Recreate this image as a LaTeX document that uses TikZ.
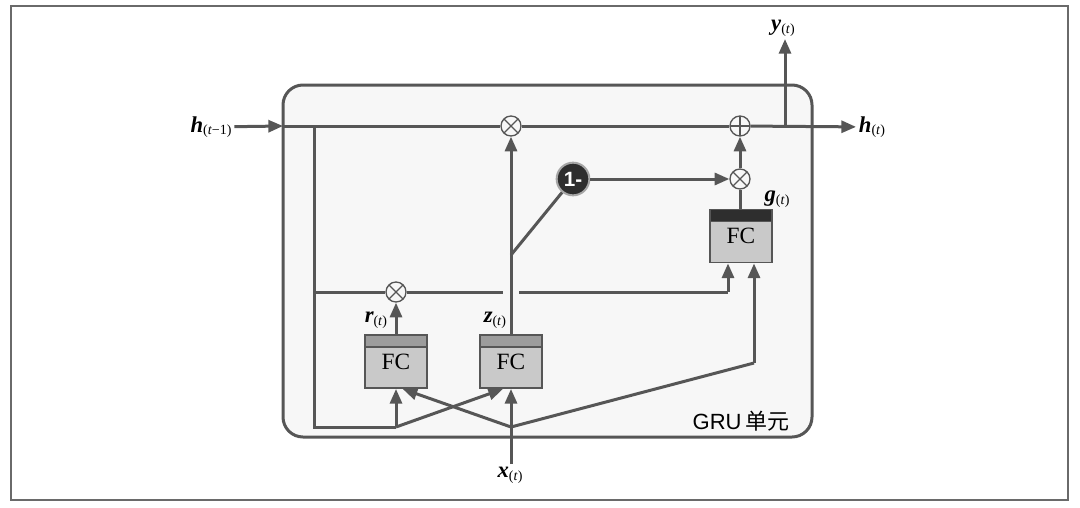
\documentclass[tikz,border=0pt]{standalone}
\usepackage{fontspec}
\setmainfont{Liberation Serif}
\newfontfamily\cjk{Noto Sans CJK SC}
\newfontfamily\sansb{Liberation Sans}
\usetikzlibrary{arrows.meta,calc}
\definecolor{ln}{HTML}{565656}
\definecolor{cellbg}{HTML}{F7F7F7}
\definecolor{boxgray}{HTML}{C9C9C9}
\definecolor{bandmid}{HTML}{9C9C9C}
\definecolor{banddark}{HTML}{2E2E2E}
\definecolor{framegray}{HTML}{6A6A6A}
\newcommand\lab[2]{{\fontsize{17}{17}\selectfont\bfseries\itshape #1}\raisebox{-0.45ex}{\fontsize{10.5}{10.5}\selectfont(#2)}}
\begin{document}
\begin{tikzpicture}[x=0.75pt,y=-0.75pt,
  conn/.style={draw=ln,line width=2.25pt},
  arr/.style={conn,-{Triangle[length=11pt,width=9pt]}},
  opbase/.style={circle,draw=ln,line width=1pt,fill=cellbg,minimum size=15pt,inner sep=0pt},
  mult/.style={opbase,path picture={\draw[ln,line width=1pt] (path picture bounding box.north west) -- (path picture bounding box.south east) (path picture bounding box.north east) -- (path picture bounding box.south west);}},
  plus/.style={opbase,path picture={\draw[ln,line width=1pt] (path picture bounding box.north) -- (path picture bounding box.south) (path picture bounding box.east) -- (path picture bounding box.west);}},
  fcbox/.style={draw=ln,line width=1.4pt,fill=boxgray,minimum width=46.5pt,minimum height=39.75pt,inner sep=0pt,font=\fontsize{17.5}{17.5}\selectfont,
    path picture={\fill[#1] (path picture bounding box.north west) rectangle ([yshift=-9pt]path picture bounding box.north east);
      \draw[ln,line width=1.2pt] ([yshift=-9pt]path picture bounding box.north west) -- ([yshift=-9pt]path picture bounding box.north east);}},
  onenode/.style={circle,fill=banddark,draw=gray!70,line width=1.5pt,minimum size=24.5pt,inner sep=0pt,text=white,font=\sansb\bfseries\fontsize{15.5}{15.5}\selectfont},
  lbl/.style={inner sep=2pt}
]
\useasboundingbox (0,0) rectangle (1080,507);
\draw[framegray,line width=1.1pt] (11,6) rectangle (1068,500);
% cell
\draw[ln,line width=2.25pt,fill=cellbg,rounded corners=15pt] (283,85) rectangle (812,437);
\node[font=\fontsize{16.5}{16.5}\selectfont] (gru) at (741,421) {{\sansb GRU}\,{\cjk 单元}};
% operators
\node[mult] (m1) at (511,126) {};
\node[plus] (a1) at (740,126) {};
\node[mult] (mg) at (740,179) {};
\node[mult] (mr) at (396,292) {};
\node[onenode] (one) at (573,179) {1-};
% FC boxes
\node[fcbox=bandmid] (r) at (396,361.5) {\raisebox{-4pt}{FC}};
\node[fcbox=bandmid] (z) at (511,361.5) {\raisebox{-4pt}{FC}};
\node[fcbox=banddark] (g) at (741,236) {\raisebox{-4pt}{FC}};
% labels
\node[lbl] (hprev) at (211,127) {\lab{h}{\textit{t}−1}};
\node[lbl] (hnext) at (872,127) {\lab{h}{\textit{t}}};
\node[lbl] (yout) at (783,28) {\lab{y}{\textit{t}}};
\node[lbl] (xin) at (510,475) {\lab{x}{\textit{t}}};
\node[lbl,anchor=east] (rlab) at (390,320) {\lab{r}{\textit{t}}};
\node[lbl,anchor=east] (zlab) at (509,320) {\lab{z}{\textit{t}}};
\node[lbl] (glab) at (777,199) {\lab{g}{\textit{t}}};
% coordinates
\coordinate (cellL) at (283,126);
\coordinate (tl) at (314,126);
\coordinate (bl) at (314,427);
\coordinate (br) at (396,427);
\coordinate (xs) at (511,427);
\coordinate (gc) at (754,363);
\coordinate (rl) at (314,292);
\coordinate (gap1) at (503,292);
\coordinate (gap2) at (519,292);
\coordinate (gr) at (728,292);
\coordinate (zb) at (511,255);
\coordinate (ysplit) at (785,126);
% top line
\draw[arr] (hprev) -- (cellL);
\draw[conn] (cellL) -- (m1);
\draw[conn] (m1) -- (a1);
\draw[arr] (a1) -- (hnext);
\draw[arr] (ysplit) -- (ysplit |- yout.south);
% left loop
\draw[conn] (tl) -- (bl) -- (br);
\draw[arr] (br) -- (r.south);
\draw[arr] (br) -- ([xshift=-6pt]z.south);
% x input
\draw[conn] (xin.north -| xs) -- (xs);
\draw[arr] (xs) -- (z.south);
\draw[arr] (xs) -- ([xshift=5pt]r.south);
\draw[conn] (xs) -- (gc);
\draw[arr] (gc) -- (gc |- g.south);
% reset line
\draw[conn] (rl) -- (mr);
\draw[conn] (mr) -- (gap1);
\draw[conn] (gap2) -- (gr);
\draw[arr] (gr) -- (gr |- g.south);
\draw[arr] (r.north) -- (mr);
% update gate
\draw[arr] (z.north) -- (m1);
\draw[conn] (zb) -- (one);
\draw[arr] (one) -- (mg);
\draw[conn] (g.north -| mg) -- (mg);
\draw[arr] (mg) -- (a1);
\end{tikzpicture}
\end{document}
